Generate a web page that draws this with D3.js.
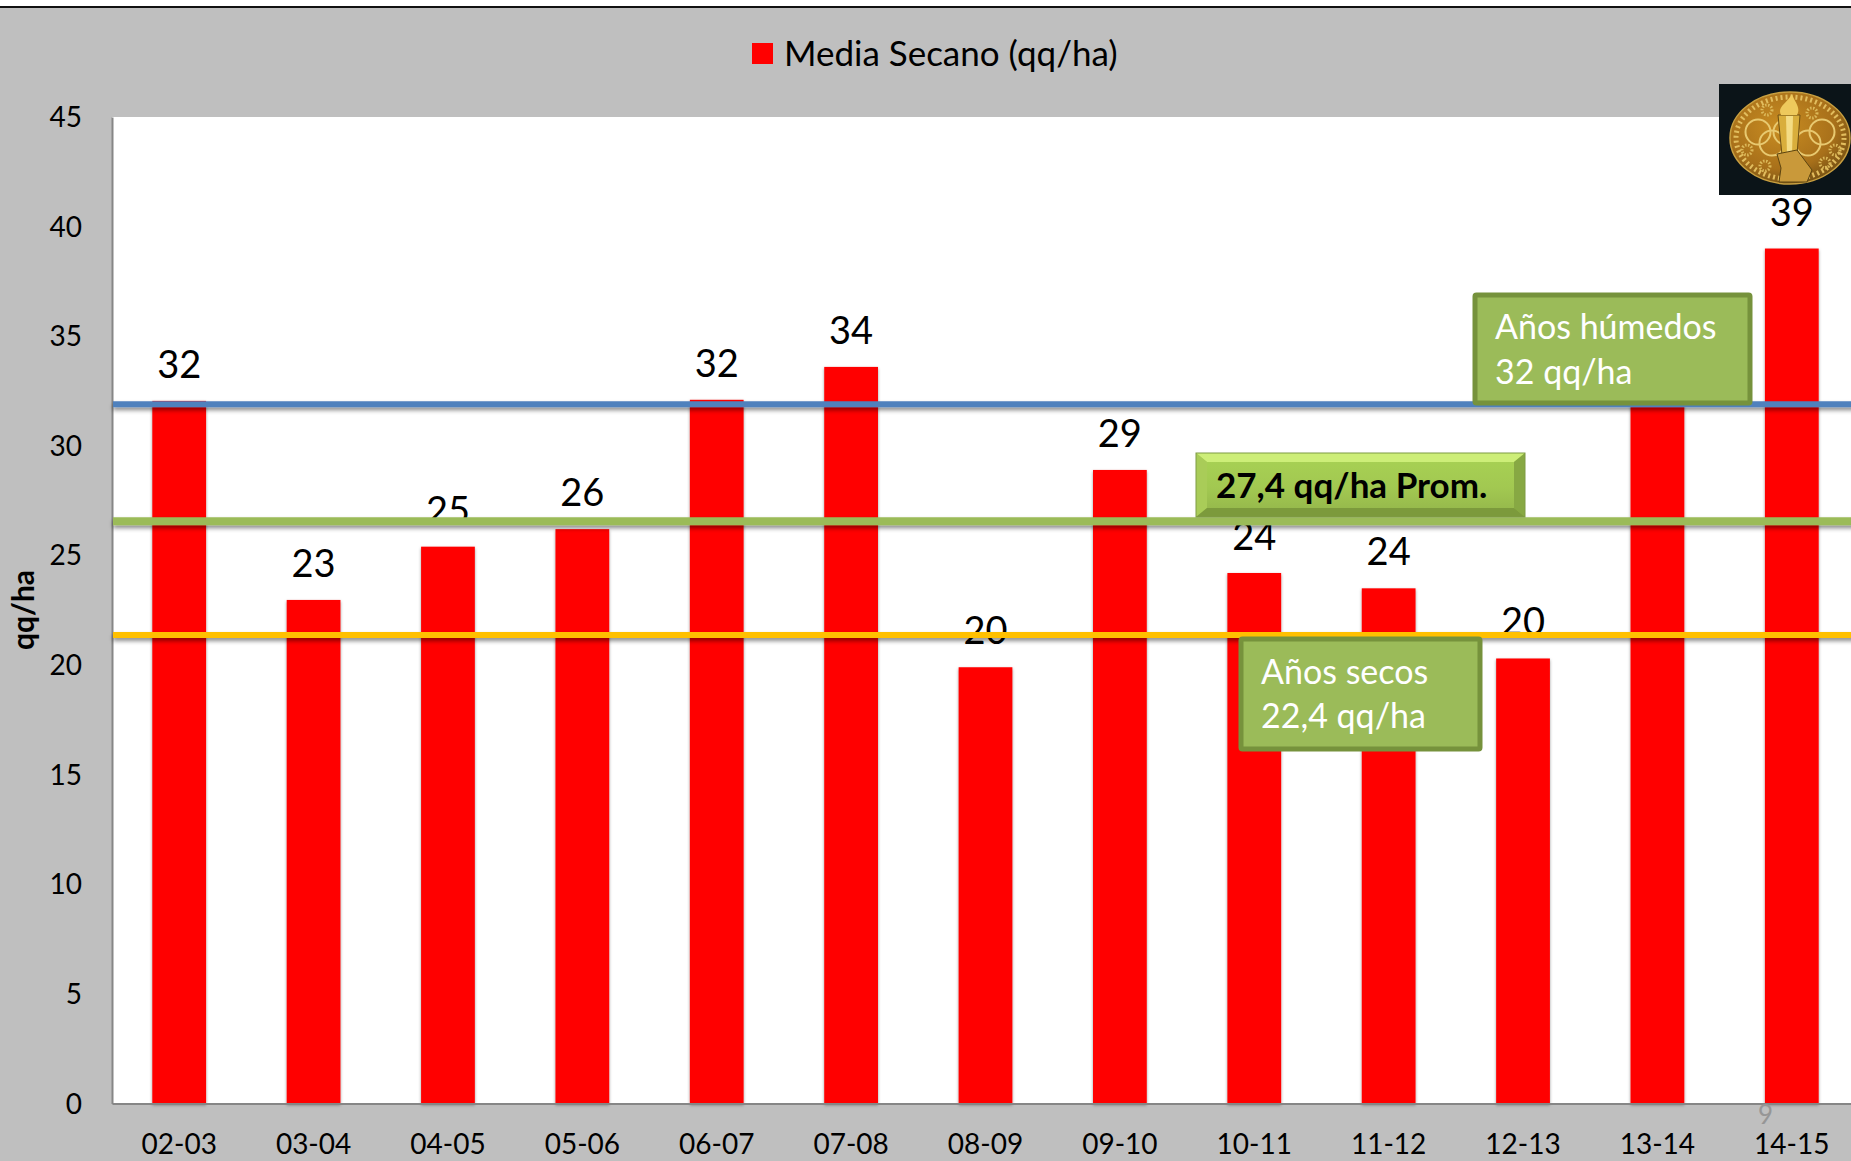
<!DOCTYPE html>
<html>
<head>
<meta charset="utf-8">
<script src="https://cdn.jsdelivr.net/npm/d3@7/dist/d3.min.js"></script>
<style>
  html, body { margin: 0; padding: 0; background: #fff; overflow: hidden; }
  svg { display: block; font-family: Lato, "Open Sans", sans-serif; }
</style>
</head>
<body>
<script>
var campaigns = ["02-03","03-04","04-05","05-06","06-07","07-08","08-09","09-10","10-11","11-12","12-13","13-14","14-15"];
var yields = [32.05,22.97,25.4,26.2,32.1,33.6,19.9,28.9,24.2,23.5,20.3,34,39];
// 13-14 has its label and bar top hidden behind the box in the reference
var yieldLabels = ["32","23","25","26","32","34","20","29","24","24","20","","39"];
var yTicks = [0,5,10,15,20,25,30,35,40,45];
var refValues = [31.9,26.56,21.37];
var refColors = ["#4f81bd","#9bbb59","#ffc000"];
var refWidths = [6,8,6];
var humedosLines = ["Años húmedos","32 qq/ha"];
var secosLines = ["Años secos","22,4 qq/ha"];
var promText = "27,4 qq/ha Prom.";
var legendText = "Media Secano (qq/ha)";

var width = 1851, height = 1161;
var plot = {left: 112, right: 1859, top: 117, bottom: 1103.5};

var svg = d3.select("body").append("svg")
    .attr("width", width)
    .attr("height", height);

var defs = svg.append("defs");

function shadow(id, dy, blur, opacity) {
  defs.append("filter").attr("id", id)
      .attr("filterUnits", "userSpaceOnUse")
      .attr("x", 0).attr("y", 0).attr("width", width).attr("height", height)
    .append("feDropShadow")
      .attr("dx", 0).attr("dy", dy).attr("stdDeviation", blur)
      .attr("flood-color", "#000").attr("flood-opacity", opacity);
}
shadow("barShadow", 1.5, 1.6, 0.4);
shadow("lineShadow", 3, 2, 0.45);

var promGrad = defs.append("linearGradient").attr("id", "promGrad")
    .attr("x1", 0).attr("y1", 0).attr("x2", 0).attr("y2", 1);
promGrad.append("stop").attr("offset", "0").attr("stop-color", "#a8d254");
promGrad.append("stop").attr("offset", "0.55").attr("stop-color", "#a2c851");
promGrad.append("stop").attr("offset", "1").attr("stop-color", "#92b44a");

var goldGrad = defs.append("radialGradient").attr("id", "goldGrad")
    .attr("cx", "0.42").attr("cy", "0.38").attr("r", "0.7");
goldGrad.append("stop").attr("offset", "0").attr("stop-color", "#c98d22");
goldGrad.append("stop").attr("offset", "0.65").attr("stop-color", "#a8701a");
goldGrad.append("stop").attr("offset", "1").attr("stop-color", "#6a4a12");

// background
svg.append("rect").attr("width", width).attr("height", height).attr("fill", "#fff");
svg.append("rect").attr("y", 7).attr("width", width).attr("height", height - 7).attr("fill", "#bfbfbf");
svg.append("rect").attr("y", 6).attr("width", width).attr("height", 2).attr("fill", "#111");
svg.append("rect")
    .attr("x", plot.left).attr("y", plot.top)
    .attr("width", plot.right - plot.left).attr("height", plot.bottom - plot.top)
    .attr("fill", "#fff");

var x = d3.scaleBand()
    .domain(campaigns)
    .range([plot.left, plot.right])
    .paddingInner(0.6)
    .paddingOuter(0.3);

var y = d3.scaleLinear()
    .domain([0, 45])
    .range([plot.bottom, plot.top]);

// bars
svg.append("g").selectAll("rect")
    .data(yields)
  .enter().append("rect")
    .attr("x", function(d, i) { return x(campaigns[i]); })
    .attr("y", function(d) { return y(d); })
    .attr("width", x.bandwidth())
    .attr("height", function(d) { return y(0) - y(d); })
    .attr("fill", "#ff0000")
    .attr("filter", "url(#barShadow)");

// axes
var yAxis = svg.append("g")
    .attr("transform", "translate(" + plot.left + ",0)")
    .call(d3.axisLeft(y).tickValues(yTicks).tickSize(0).tickPadding(30));
var xAxis = svg.append("g")
    .attr("transform", "translate(0," + plot.bottom + ")")
    .call(d3.axisBottom(x).tickSize(0).tickPadding(31));
[yAxis, xAxis].forEach(function(a) {
  a.select(".domain").attr("stroke", "#868686").attr("stroke-width", 2);
  a.selectAll("text")
      .attr("fill", "#000")
      .style("font-family", "Lato, sans-serif")
      .style("font-size", "28px");
});
yAxis.selectAll("text").attr("dy", "0.34em");

// value labels
svg.append("g").selectAll("text")
    .data(yields)
  .enter().append("text")
    .attr("x", function(d, i) { return x(campaigns[i]) + x.bandwidth() / 2; })
    .attr("y", function(d) { return y(d) - 23; })
    .attr("text-anchor", "middle")
    .attr("font-size", 38)
    .attr("fill", "#000")
    .text(function(d, i) { return yieldLabels[i]; });

// reference lines
svg.append("g").selectAll("line")
    .data(refValues)
  .enter().append("line")
    .attr("x1", plot.left + 1)
    .attr("x2", plot.right)
    .attr("y1", function(d) { return y(d); })
    .attr("y2", function(d) { return y(d); })
    .attr("stroke", function(d, i) { return refColors[i]; })
    .attr("stroke-width", function(d, i) { return refWidths[i]; })
    .attr("filter", "url(#lineShadow)");

// legend
svg.append("rect")
    .attr("x", 752).attr("y", 43).attr("width", 21).attr("height", 21)
    .attr("fill", "#ff0000");
svg.append("text")
    .attr("x", 784).attr("y", 66)
    .attr("font-size", 35)
    .attr("fill", "#000")
    .text(legendText);

// y axis title
svg.append("text")
    .attr("transform", "translate(34,610) rotate(-90)")
    .attr("text-anchor", "middle")
    .attr("font-size", 30)
    .attr("font-weight", "bold")
    .attr("fill", "#000")
    .text("qq/ha");

// annotation boxes
function noteBox(bx, by, bw, bh, lines, baselines, tx) {
  var g = svg.append("g");
  g.append("rect")
      .attr("x", bx).attr("y", by).attr("width", bw).attr("height", bh)
      .attr("rx", 1.5)
      .attr("fill", "#9bbb59")
      .attr("stroke", "#76923c")
      .attr("stroke-width", 5);
  g.selectAll("text").data(lines).enter().append("text")
      .attr("x", tx)
      .attr("y", function(d, i) { return baselines[i]; })
      .attr("font-size", 34)
      .attr("fill", "#fff")
      .text(function(d) { return d; });
}
noteBox(1475, 295, 275, 108, humedosLines, [339, 384], 1495);
noteBox(1241, 639, 239, 110, secosLines, [684, 728], 1261);

// bevelled box for the average
var prom = svg.append("g");
prom.append("rect")
    .attr("x", 1196).attr("y", 453).attr("width", 329).attr("height", 64)
    .attr("fill", "url(#promGrad)");
prom.append("path")
    .attr("d", "M1196,453 L1525,453 L1514,462 L1207,462 Z")
    .attr("fill", "#cdee78");
prom.append("path")
    .attr("d", "M1196,453 L1207,462 L1207,508 L1196,517 Z")
    .attr("fill", "#a9cc58");
prom.append("path")
    .attr("d", "M1525,453 L1514,462 L1514,508 L1525,517 Z")
    .attr("fill", "#87a843");
prom.append("path")
    .attr("d", "M1196,517 L1207,508 L1514,508 L1525,517 Z")
    .attr("fill", "#7c9a3c");
prom.append("rect")
    .attr("x", 1196).attr("y", 453).attr("width", 329).attr("height", 64)
    .attr("fill", "none")
    .attr("stroke", "#7f9b45")
    .attr("stroke-width", 1);
prom.append("text")
    .attr("x", 1216).attr("y", 498)
    .attr("font-size", 35)
    .attr("font-weight", "bold")
    .attr("fill", "#000")
    .text(promText);

// medal picture, drawn by hand
var medal = svg.append("g");
medal.append("rect")
    .attr("x", 1719).attr("y", 84).attr("width", 132).attr("height", 111)
    .attr("fill", "#0b1418");
medal.append("ellipse")
    .attr("cx", 1790).attr("cy", 138).attr("rx", 60).attr("ry", 46)
    .attr("fill", "url(#goldGrad)")
    .attr("stroke", "#c9a040").attr("stroke-width", 1.5);
medal.append("ellipse")
    .attr("cx", 1790).attr("cy", 138).attr("rx", 54).attr("ry", 41)
    .attr("fill", "none")
    .attr("stroke", "#e2bd5e").attr("stroke-width", 5).attr("stroke-dasharray", "2 3");
var rosetteCx = [1767, 1812, 1747, 1835, 1765, 1825];
var rosetteCy = [110, 113, 150, 150, 166, 163];
medal.selectAll("circle.rosette").data(rosetteCx).enter().append("circle")
    .attr("class", "rosette")
    .attr("cx", function(d) { return d; })
    .attr("cy", function(d, i) { return rosetteCy[i]; })
    .attr("r", 5)
    .attr("fill", "none")
    .attr("stroke", "#dcb95a").attr("stroke-width", 3).attr("stroke-dasharray", "1.5 1.5");
var ringCx = [1758, 1772, 1786, 1808, 1822];
var ringCy = [132, 143, 132, 143, 132];
medal.selectAll("circle.ring").data(ringCx).enter().append("circle")
    .attr("class", "ring")
    .attr("cx", function(d) { return d; })
    .attr("cy", function(d, i) { return ringCy[i]; })
    .attr("r", 12.5)
    .attr("fill", "none")
    .attr("stroke", "#e8c970").attr("stroke-width", 2);
medal.append("path")
    .attr("d", "M1778,115 L1800,115 L1797,155 L1782,155 Z")
    .attr("fill", "#d9ae3c").attr("stroke", "#6e4f12").attr("stroke-width", 1);
medal.append("path")
    .attr("d", "M1786,116 L1793,116 L1792,155 L1787,155 Z")
    .attr("fill", "#f4dc84");
medal.append("path")
    .attr("d", "M1781,115 C1777,107 1786,104 1792,94 C1795,103 1801,107 1797,115 Z")
    .attr("fill", "#eec95c");
medal.append("path")
    .attr("d", "M1777,154 L1797,150 L1812,170 L1807,182 L1779,182 L1781,168 Z")
    .attr("fill", "#c9993a").attr("stroke", "#5c4410").attr("stroke-width", 1);

// slide number
svg.append("text")
    .attr("x", 1758).attr("y", 1124)
    .attr("font-size", 26)
    .attr("fill", "#969696")
    .text("9");
</script>
</body>
</html>
